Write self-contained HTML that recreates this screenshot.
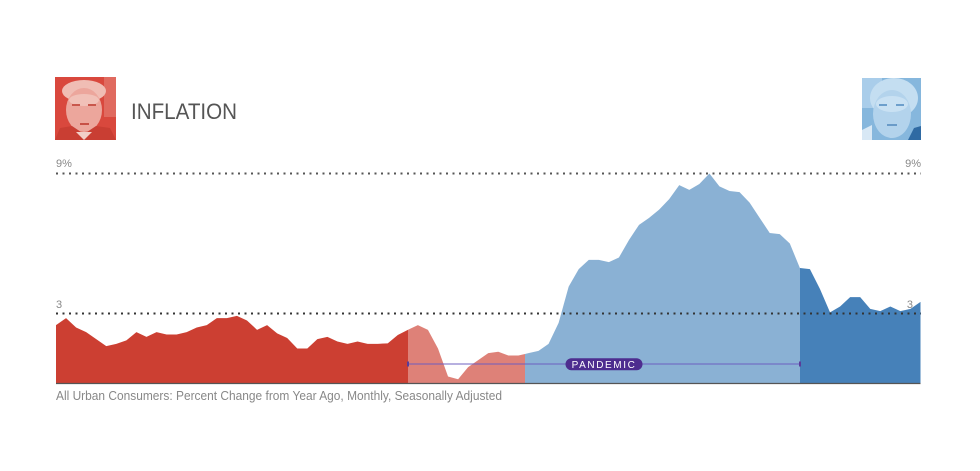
<!DOCTYPE html>
<html>
<head>
<meta charset="utf-8">
<style>
html,body{margin:0;padding:0;background:#fff;}
svg{display:block;}
text{font-family:"Liberation Sans",sans-serif;}
</style>
</head>
<body>
<svg id="c" width="980" height="471" viewBox="0 0 980 471" xmlns="http://www.w3.org/2000/svg">
<rect width="980" height="471" fill="#fff"/>
<defs>
<clipPath id="c1"><rect x="56" y="150" width="352" height="234"/></clipPath>
<clipPath id="c2"><rect x="408" y="150" width="117" height="234"/></clipPath>
<clipPath id="c3"><rect x="525" y="150" width="275" height="234"/></clipPath>
<clipPath id="c4"><rect x="800" y="150" width="120.5" height="234"/></clipPath>
<clipPath id="tp"><rect x="55" y="77" width="61" height="63"/></clipPath>
<clipPath id="bp"><rect x="862" y="78" width="59" height="62"/></clipPath>
</defs>

<!-- Trump photo -->
<g clip-path="url(#tp)">
<rect x="55" y="77" width="61" height="63" fill="#d9483d"/>
<rect x="104" y="77" width="12" height="40" fill="#e06a5f"/>
<ellipse cx="84" cy="91" rx="22" ry="11" fill="#f0bdb4"/>
<ellipse cx="84" cy="110" rx="18" ry="22" fill="#eca69c"/>
<ellipse cx="84" cy="100" rx="15" ry="6" fill="#f1c1b8"/>
<rect x="72" y="104" width="8" height="2" fill="#c9574c"/>
<rect x="88" y="104" width="8" height="2" fill="#c9574c"/>
<rect x="80" y="123" width="9" height="2" fill="#c75046"/>
<polygon points="55,140 60,128 72,126 84,134 96,126 110,128 116,140" fill="#c93e33"/>
<polygon points="76,132 84,140 92,132" fill="#f2cfc8"/>
</g>

<!-- Biden photo -->
<g clip-path="url(#bp)">
<rect x="862" y="78" width="59" height="62" fill="#86b7dd"/>
<rect x="862" y="78" width="20" height="30" fill="#a9cdea"/>
<ellipse cx="894" cy="98" rx="24" ry="20" fill="#c4def1"/>
<ellipse cx="892" cy="114" rx="19" ry="24" fill="#b3d3ec"/>
<ellipse cx="892" cy="104" rx="16" ry="8" fill="#c9e1f3"/>
<rect x="879" y="104" width="8" height="2" fill="#6d9fcc"/>
<rect x="896" y="104" width="8" height="2" fill="#6d9fcc"/>
<rect x="887" y="124" width="10" height="2" fill="#6a9bc8"/>
<polygon points="862,130 872,125 872,140 862,140" fill="#d8e8f5"/>
<polygon points="908,140 914,128 921,126 921,140" fill="#2f6aa3"/>
</g>

<text x="131" y="119" font-size="22" fill="#555" textLength="106" lengthAdjust="spacingAndGlyphs">INFLATION</text>

<text x="56" y="167" font-size="11" fill="#888">9%</text>
<text x="921" y="167" font-size="11" fill="#888" text-anchor="end">9%</text>
<text x="56" y="308" font-size="11" fill="#888">3</text>
<text x="913" y="308" font-size="11" fill="#888" text-anchor="end">3</text>

<g id="areas">
<path id="a1" clip-path="url(#c1)" fill="#cc3f32" d=""/>
<path id="a2" clip-path="url(#c2)" fill="#de8178" d=""/>
<path id="a3" clip-path="url(#c3)" fill="#8ab1d4" d=""/>
<path id="a4" clip-path="url(#c4)" fill="#4681b9" d=""/>
</g>

<line x1="56" y1="173.5" x2="921" y2="173.5" stroke="#555" stroke-width="2" stroke-dasharray="2 4.5"/>
<line x1="56" y1="313.5" x2="921" y2="313.5" stroke="#333" stroke-width="2" stroke-dasharray="2 4.5"/>

<line x1="56" y1="383.5" x2="920.5" y2="383.5" stroke="#555" stroke-width="1.2"/>

<line x1="408" y1="364" x2="800" y2="364" stroke="#6b5cc0" stroke-opacity="0.65" stroke-width="1.6"/>
<rect x="407" y="361.5" width="2" height="5" fill="#5a3c9a"/>
<rect x="799" y="361.5" width="2" height="5" fill="#5a3c9a"/>
<rect x="565.5" y="358.3" width="77" height="12" rx="6" fill="#4d2d8f"/>
<text x="604" y="368.2" font-size="10" fill="#fff" text-anchor="middle" letter-spacing="1.6">PANDEMIC</text>

<text x="56" y="400" font-size="12.5" fill="#888" textLength="446" lengthAdjust="spacingAndGlyphs">All Urban Consumers: Percent Change from Year Ago, Monthly, Seasonally Adjusted</text>
</svg>
<script>
(function(){
var v=[2.5,2.8,2.4,2.2,1.9,1.6,1.7,1.85,2.2,2.0,2.2,2.1,
2.1,2.2,2.4,2.5,2.8,2.8,2.9,2.7,2.3,2.5,2.15,1.95,
1.5,1.5,1.9,2.0,1.8,1.7,1.8,1.7,1.7,1.72,2.08,2.3,
2.5,2.3,1.5,0.3,0.18,0.7,1.0,1.3,1.36,1.2,1.2,1.3,
1.4,1.7,2.6,4.15,4.9,5.3,5.3,5.2,5.4,6.15,6.8,7.1,
7.45,7.9,8.5,8.3,8.55,9.0,8.45,8.25,8.2,7.75,7.1,6.45,
6.4,6.0,4.95,4.9,4.05,3.05,3.3,3.7,3.7,3.2,3.1,3.3,
3.1,3.2,3.5];
var n=v.length-1, x0=56, x1=920.5, y0=383.5, k=23.333;
var d="M"+x0+","+y0;
for(var i=0;i<=n;i++){var x=x0+i*(x1-x0)/n;var y=y0-v[i]*k;d+=" L"+x.toFixed(2)+","+y.toFixed(2);}
d+=" L"+x1+","+y0+" Z";
["a1","a2","a3","a4"].forEach(function(id){document.getElementById(id).setAttribute("d",d);});
})();
</script>
</body>
</html>
